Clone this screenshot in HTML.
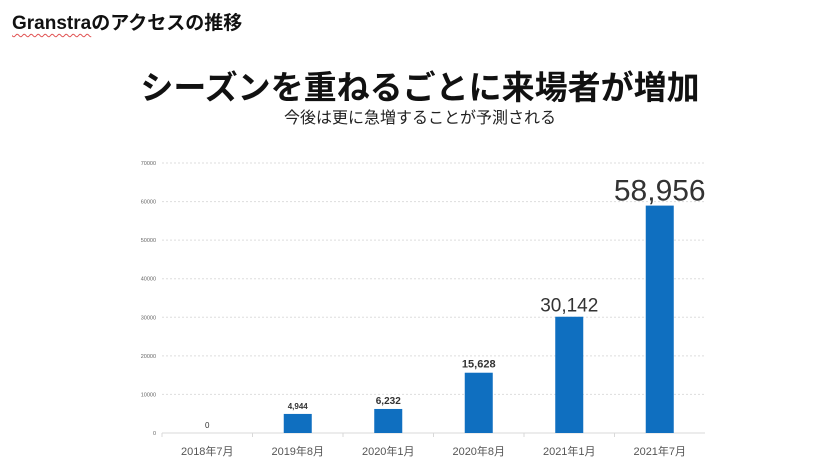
<!DOCTYPE html>
<html><head><meta charset="utf-8"><style>
body{margin:0;width:840px;height:473px;background:#fff;overflow:hidden;font-family:"Liberation Sans","Noto Sans CJK JP",sans-serif}
#page-title{position:absolute;left:12px;top:8px;font-size:19px;font-weight:bold;color:#111}
#page-title .sq{text-decoration:underline wavy #e05050;text-decoration-thickness:1px;text-underline-offset:4px}
#headline{position:absolute;left:0;width:840px;top:61px;text-align:center;font-size:33px;font-weight:bold;color:#111}
#sub{position:absolute;left:0;width:840px;top:104px;text-align:center;font-size:16px;color:#222}
svg{position:absolute;left:0;top:0}
</style></head><body>
<div id="page-title"><span class="sq">Granstra</span>のアクセスの推移</div>
<div id="headline">シーズンを重ねるごとに来場者が増加</div>
<div id="sub">今後は更に急増することが予測される</div>
<svg id="chart" width="840" height="473"></svg>
<script>
const categories=["2018年7月","2019年8月","2020年1月","2020年8月","2021年1月","2021年7月"];
const values=[0,4944,6232,15628,30142,58956];
const valueLabels=["0","4,944","6,232","15,628","30,142","58,956"];
const yTicks=[0,10000,20000,30000,40000,50000,60000,70000];
const labelSizes=[8,8,10,11,19,30];
const labelBold=[false,true,true,true,false,false];
const svg=document.getElementById('chart');
const NS='http://www.w3.org/2000/svg';
const x0=162,x1=705,y0=433,yTop=163,yMax=70000;
const bw=(x1-x0)/categories.length;
const y=v=>y0-(v/yMax)*(y0-yTop);
const xc=i=>x0+bw*(i+0.5);
function mk(t,a){const e=document.createElementNS(NS,t);for(const k in a)e.setAttribute(k,a[k]);svg.appendChild(e);return e;}
yTicks.forEach(t=>{
  if(t>0){const g=mk('line',{x1:x0,x2:x1,y1:y(t),y2:y(t),stroke:'#ddd','stroke-width':1,'stroke-dasharray':'2,2'});
  
  }
  const l=mk('text',{x:156,y:y(t)+2,'text-anchor':'end','font-size':5.5,fill:'#666'});
  l.textContent=t;
  
  
});
const ax=mk('line',{x1:x0,x2:x1,y1:y0,y2:y0,stroke:'#d9d9d9','stroke-width':1});


categories.forEach((c,i)=>{
  const tk=mk('line',{x1:x0+bw*i,x2:x0+bw*i,y1:y0,y2:y0+4,stroke:'#d9d9d9'});
  
  
  if(values[i]>0){
    const r=mk('rect',{x:xc(i)-14,y:y(values[i]),width:28,height:y0-y(values[i]),fill:'#0f6fc0'});
    
    
  }
  const v=mk('text',{x:xc(i),y:y(values[i])-5,'text-anchor':'middle','font-size':labelSizes[i],fill:'#333','font-weight':labelBold[i]?'bold':'normal'});
  v.textContent=valueLabels[i];
  
  
  const cl=mk('text',{x:xc(i),y:455,'text-anchor':'middle','font-size':11,fill:'#555'});
  cl.textContent=c;
  
  
});
</script>
</body></html>
